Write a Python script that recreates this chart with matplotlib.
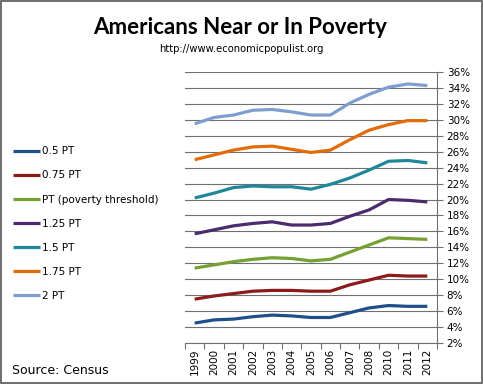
import numpy as np
import matplotlib
matplotlib.use('Agg')
import matplotlib.pyplot as plt
from matplotlib.patches import Rectangle
from matplotlib.ticker import FuncFormatter

# 데이터
years = ['1999', '2000', '2001', '2002', '2003', '2004', '2005',
         '2006', '2007', '2008', '2010', '2011', '2012']
pt_050 = [4.5, 4.9, 5.0, 5.3, 5.5, 5.4, 5.2, 5.2, 5.8, 6.4, 6.7, 6.6, 6.6]
pt_075 = [7.5, 7.9, 8.2, 8.5, 8.6, 8.6, 8.5, 8.5, 9.3, 9.9, 10.5, 10.4, 10.4]
pt_100 = [11.4, 11.8, 12.2, 12.5, 12.7, 12.6, 12.3, 12.5, 13.4, 14.3, 15.2, 15.1, 15.0]
pt_125 = [15.7, 16.2, 16.7, 17.0, 17.2, 16.8, 16.8, 17.0, 17.9, 18.7, 20.0, 19.9, 19.7]
pt_150 = [20.2, 20.8, 21.5, 21.7, 21.6, 21.6, 21.3, 21.9, 22.7, 23.7, 24.8, 24.9, 24.6]
pt_175 = [25.0, 25.6, 26.2, 26.6, 26.7, 26.3, 25.9, 26.2, 27.5, 28.7, 29.4, 29.9, 29.9]
pt_200 = [29.5, 30.3, 30.6, 31.2, 31.3, 31.0, 30.6, 30.6, 32.1, 33.2, 34.1, 34.5, 34.3]

labels = ['0.5 PT', '0.75 PT', 'PT (poverty threshold)', '1.25 PT', '1.5 PT', '1.75 PT', '2 PT']
series = [pt_050, pt_075, pt_100, pt_125, pt_150, pt_175, pt_200]
colors = ['#1F4E8C', '#8E1B1B', '#77A032', '#4B2A6E', '#1F8799', '#E36C0A', '#7F9ED0']

fig = plt.figure(figsize=(4.83, 3.88), dpi=100)
ax = fig.add_axes([185/483, 1 - 343/388, (437 - 185)/483, (343 - 72)/388])

x = np.arange(len(years))
for s, lab, c in zip(series, labels, colors):
    ax.plot(x, s, color=c, lw=2.3, label=lab, solid_capstyle='butt')

ax.set_xlim(-0.5, len(years) - 0.5)
ax.set_ylim(2, 36)
ax.set_yticks(np.arange(2, 37, 2))
ax.yaxis.set_major_formatter(FuncFormatter(lambda v, p: '%d%%' % v))
ax.yaxis.tick_right()
ax.yaxis.grid(True, color='#707070', lw=0.8)
ax.set_axisbelow(True)

# 눈금은 카테고리 사이에
ax.set_xticks(np.arange(-0.5, len(years), 1))
ax.set_xticklabels([])
ax.set_xticks(x, minor=True)
ax.set_xticklabels(years, minor=True, rotation=90, fontsize=7.5)
ax.tick_params(axis='x', which='minor', length=0, pad=4)
ax.tick_params(axis='x', which='major', length=4, color='#707070')
ax.tick_params(axis='y', length=4, color='#707070', labelsize=7.5, pad=3)

for sp in ['top', 'left']:
    ax.spines[sp].set_visible(False)
for sp in ['bottom', 'right']:
    ax.spines[sp].set_color('#707070')

fig.legend(loc='upper left', bbox_to_anchor=(4/483, 1 - 137/388), frameon=False,
           fontsize=7.5, handlelength=2.6, handletextpad=0.1, labelspacing=1.35)

fig.text(240/483, 1 - 27/388, 'Americans Near or In Poverty', ha='center', va='center',
         fontsize=16, fontweight='bold', family='Lato')
fig.text(241/483, 1 - 49/388, 'http://www.economicpopulist.org', ha='center', va='center',
         fontsize=7.2)
fig.text(12/483, 1 - 371/388, 'Source: Census', ha='left', va='center', fontsize=9)

fig.patches.append(Rectangle((1/483, 1 - 383/388), 481/483, 382/388, transform=fig.transFigure,
                             fill=False, edgecolor='#555555', lw=1.2))

fig.savefig('out.png', dpi=100)
